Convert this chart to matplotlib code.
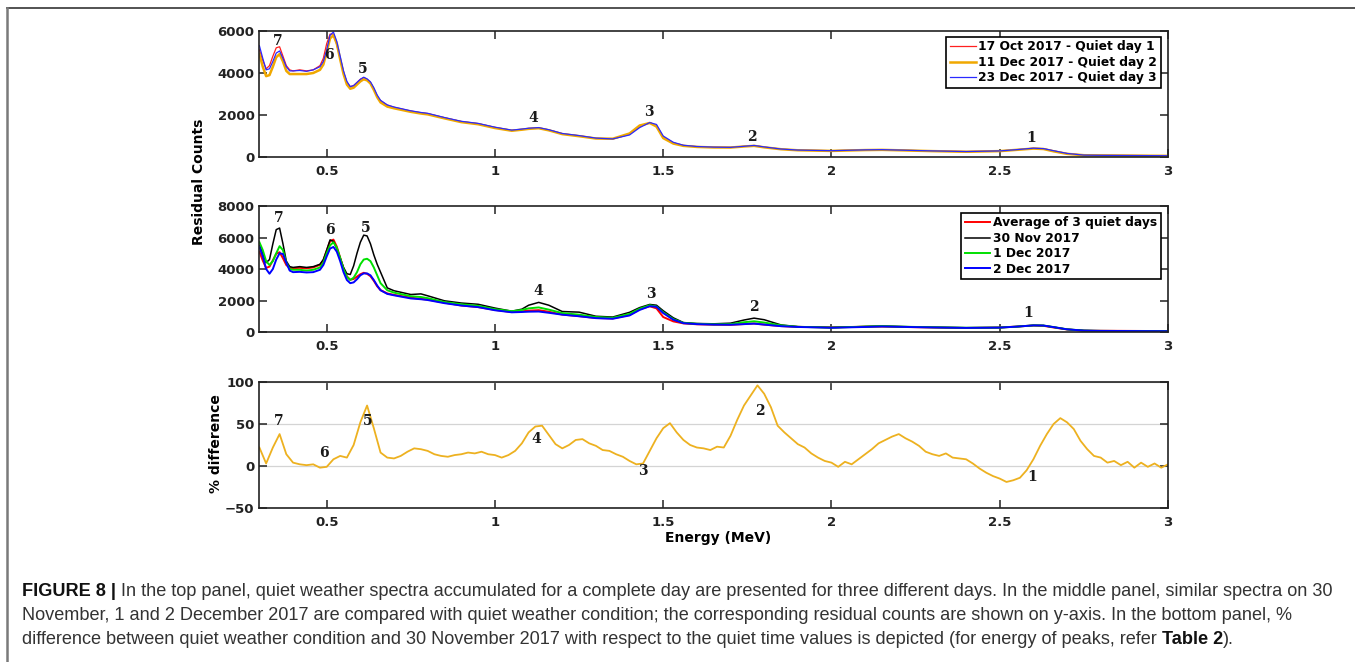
import numpy as np
import matplotlib
matplotlib.use('Agg')
import matplotlib.pyplot as plt
from matplotlib.lines import Line2D
from matplotlib import font_manager

# energy grid (MeV) shared by the top and middle panels
energy = [0.30, 0.31, 0.32, 0.33, 0.34, 0.35, 0.36, 0.37, 0.38, 0.39,
          0.40, 0.42, 0.44, 0.46, 0.48, 0.49, 0.50, 0.51, 0.52, 0.53,
          0.54, 0.55, 0.56, 0.57, 0.58, 0.59, 0.60, 0.61, 0.62, 0.63,
          0.64, 0.65, 0.66, 0.68, 0.70, 0.75, 0.78, 0.80, 0.85, 0.90,
          0.95, 1.00, 1.05, 1.08, 1.10, 1.13, 1.16, 1.20, 1.25, 1.30,
          1.35, 1.40, 1.43, 1.46, 1.48, 1.50, 1.53, 1.56, 1.60, 1.65,
          1.70, 1.74, 1.77, 1.80, 1.85, 1.90, 2.00, 2.10, 2.15, 2.20,
          2.30, 2.40, 2.50, 2.55, 2.60, 2.63, 2.66, 2.70, 2.75, 2.80,
          2.90, 3.00]

# quiet days (top panel)
quiet1 = [5100, 4600, 4200, 4350, 4800, 5200, 5250, 4800, 4350, 4150,
          4100, 4150, 4100, 4150, 4350, 4700, 5400, 5850, 5850, 5350,
          4700, 4050, 3550, 3350, 3400, 3550, 3700, 3780, 3700, 3550,
          3250, 2900, 2680, 2470, 2370, 2190, 2110, 2070, 1870, 1690,
          1590, 1410, 1270, 1320, 1360, 1390, 1290, 1110, 1010, 890,
          860, 1080, 1450, 1640, 1500, 950, 680, 550, 490, 465,
          455, 505, 545, 470, 375, 325, 300, 335, 345, 325,
          285, 255, 285, 345, 415, 395, 290, 165, 90, 80,
          70, 60]
quiet2 = [4900, 4300, 3850, 3900, 4300, 4750, 4900, 4550, 4100, 3950,
          3950, 3950, 3950, 4000, 4150, 4400, 5000, 5650, 5800, 5400,
          4650, 3950, 3450, 3250, 3300, 3450, 3600, 3700, 3650, 3500,
          3200, 2850, 2600, 2400, 2320, 2150, 2070, 2030, 1840, 1660,
          1560, 1380, 1250, 1300, 1340, 1370, 1270, 1090, 990, 880,
          870, 1120, 1500, 1620, 1450, 900, 640, 530, 480, 455,
          450, 500, 530, 460, 370, 320, 290, 330, 340, 320,
          280, 250, 280, 340, 400, 380, 270, 150, 85, 75,
          65, 55]
quiet3 = [5300, 4700, 4150, 4200, 4550, 4950, 5050, 4700, 4300, 4100,
          4100, 4120, 4080, 4150, 4300, 4550, 5100, 5800, 5950, 5500,
          4800, 4100, 3600, 3350, 3400, 3550, 3700, 3800, 3720, 3580,
          3300, 2950, 2700, 2480, 2380, 2200, 2120, 2080, 1880, 1700,
          1600, 1420, 1280, 1330, 1370, 1400, 1300, 1120, 1020, 900,
          860, 1050, 1400, 1640, 1550, 1000, 700, 560, 500, 470,
          460, 510, 550, 480, 380, 330, 300, 340, 350, 330,
          290, 260, 290, 350, 420, 400, 300, 170, 90, 80,
          70, 60]

# disturbed days (middle panel)
nov30 = [5500, 5000, 4400, 4600, 5600, 6500, 6600, 5600, 4500, 4150,
         4100, 4150, 4100, 4150, 4300, 4600, 5200, 5850, 5750, 5300,
         4700, 4100, 3700, 3650, 4200, 5000, 5700, 6150, 6100, 5600,
         4900, 4300, 3800, 2800, 2620, 2380, 2420, 2300, 1980, 1840,
         1760, 1520, 1320, 1450, 1700, 1880, 1700, 1300, 1260, 1000,
         950, 1250, 1550, 1750, 1700, 1350, 900, 600, 540, 520,
         560, 760, 880, 780, 450, 340, 280, 350, 380, 350,
         300, 270, 280, 340, 420, 410, 310, 170, 90, 70,
         60, 50]
dec1 = [5700, 5200, 4500, 4250, 4500, 5000, 5450, 5200, 4400, 4000,
        3950, 3950, 3900, 3950, 4100, 4400, 5000, 5500, 5700, 5350,
        4700, 4000, 3500, 3300, 3450, 3800, 4300, 4600, 4650, 4500,
        4100, 3600, 3100, 2650, 2500, 2270, 2220, 2150, 1900, 1760,
        1660, 1450, 1320, 1400, 1500, 1560, 1420, 1200, 1100, 950,
        900, 1150, 1480, 1700, 1620, 1250, 820, 580, 520, 490,
        500, 620, 680, 600, 420, 330, 280, 340, 370, 340,
        300, 270, 280, 340, 420, 410, 310, 170, 90, 70,
        60, 50]
dec2 = [5400, 4800, 4000, 3700, 4000, 4600, 5000, 4950, 4400, 3900,
        3800, 3820, 3780, 3800, 3950, 4250, 4800, 5300, 5400, 5100,
        4500, 3800, 3300, 3100, 3150, 3350, 3600, 3720, 3720, 3600,
        3300, 2950, 2650, 2420, 2330, 2130, 2080, 2030, 1830, 1680,
        1580, 1380, 1250, 1270, 1290, 1300, 1220, 1100, 1000, 880,
        840, 1050, 1400, 1640, 1600, 1200, 780, 560, 500, 470,
        460, 500, 530, 470, 370, 320, 270, 320, 350, 330,
        290, 260, 280, 340, 420, 410, 310, 170, 90, 70,
        60, 50]

# % difference, 30 Nov vs quiet (bottom panel), 0.30 .. 3.00 MeV every 0.02
pct_diff = [22, 3, 22, 38, 14, 4, 2, 1, 2, -2,
            -1, 8, 12, 10, 25, 52, 72, 45, 16, 10,
            9, 12, 17, 21, 20, 18, 14, 12, 11, 13,
            14, 16, 15, 17, 14, 13, 10, 13, 18, 27,
            40, 47, 48, 37, 26, 21, 25, 31, 32, 27,
            24, 19, 18, 14, 11, 6, 2, 3, 18, 33,
            45, 51, 40, 31, 25, 22, 21, 19, 23, 22,
            36, 55, 72, 84, 96, 86, 70, 48, 40, 33,
            26, 22, 15, 10, 6, 4, -1, 5, 2, 8,
            14, 20, 27, 31, 35, 38, 33, 29, 24, 17,
            14, 12, 15, 10, 9, 8, 3, -3, -8, -12,
            -15, -19, -17, -14, -5, 8, 24, 38, 50, 57,
            52, 44, 30, 20, 12, 10, 4, 6, 1, 5,
            -2, 4, -1, 3, -2, 2]

xticks = [0.5, 1, 1.5, 2, 2.5, 3]
xtick_labels = ['0.5', '1', '1.5', '2', '2.5', '3']
peak_ids = ['1', '2', '3', '4', '5', '6', '7']

plt.rcParams['font.family'] = 'DejaVu Sans'

W, H = 1355, 662
fig = plt.figure(figsize=(W / 100, H / 100), dpi=100)


def px_axes(left, top, right, bottom):
    return fig.add_axes([left / W, 1 - bottom / H, (right - left) / W, (bottom - top) / H])


def style(ax, ylim, yticks):
    ax.set_xlim(0.3, 3)
    ax.set_ylim(*ylim)
    ax.set_xticks(xticks)
    ax.set_xticklabels(xtick_labels)
    ax.set_yticks(yticks)
    ax.tick_params(direction='in', top=True, right=True, length=6, width=1.1,
                   labelsize=9.5, colors='#222222', pad=3.5)
    ax.tick_params(axis='x', pad=6)
    for lbl in ax.get_xticklabels() + ax.get_yticklabels():
        lbl.set_fontweight('bold')
    for s in ax.spines.values():
        s.set_linewidth(1.2)
        s.set_color('#222222')


def peaks(ax, xs, ys):
    for pid, x, y in zip(peak_ids, xs, ys):
        ax.text(x, y, pid, ha='center', va='center', fontsize=10,
                family='DejaVu Serif', fontweight='bold', color='#1a1a1a')


def legend(ax, anchor):
    leg = ax.legend(loc='upper right', bbox_to_anchor=anchor, borderaxespad=0,
                    fancybox=False, edgecolor='black', framealpha=1,
                    prop={'weight': 'bold', 'size': 8.8}, handlelength=2.1,
                    handletextpad=0.2, borderpad=0.3, labelspacing=0.2)
    leg.get_frame().set_linewidth(1.2)


E = np.array(energy)

# top panel
ax1 = px_axes(259.4, 31, 1168, 157)
ax1.plot(E, quiet1, color='#ff2020', lw=0.9, label='17 Oct 2017 - Quiet day 1')
ax1.plot(E, quiet2, color='#f0a800', lw=1.8, label='11 Dec 2017 - Quiet day 2')
ax1.plot(E, quiet3, color='#2a2aff', lw=0.9, label='23 Dec 2017 - Quiet day 3')
style(ax1, (0, 6000), [0, 2000, 4000, 6000])
peaks(ax1, [2.594, 1.762, 1.458, 1.113, 0.606, 0.508, 0.354],
      [890, 970, 2160, 1840, 4170, 4860, 5540])
legend(ax1, (0.992, 0.955))

# middle panel
avg_quiet = np.mean([quiet1, quiet2, quiet3], axis=0)
ax2 = px_axes(259.4, 206, 1168, 332)
ax2.plot(E, avg_quiet, color='#ff0000', lw=1.4, label='Average of 3 quiet days')
ax2.plot(E, nov30, color='black', lw=1.1, label='30 Nov 2017')
ax2.plot(E, dec1, color='#00e000', lw=1.4, label='1 Dec 2017')
ax2.plot(E, dec2, color='#0000ff', lw=1.4, label='2 Dec 2017')
style(ax2, (0, 8000), [0, 2000, 4000, 6000, 8000])
peaks(ax2, [2.584, 1.769, 1.462, 1.128, 0.616, 0.510, 0.356],
      [1190, 1570, 2390, 2620, 6580, 6480, 7260])
legend(ax2, (0.992, 0.947))

# bottom panel
E_pct = np.linspace(0.30, 3.00, len(pct_diff))
ax3 = px_axes(259.4, 382, 1168, 508)
ax3.plot(E_pct, pct_diff, color='#EDB120', lw=1.3)
style(ax3, (-50, 100), [-50, 0, 50, 100])
ax3.yaxis.grid(True, color='#d4d4d4', lw=0.9)
ax3.set_axisbelow(True)
peaks(ax3, [2.597, 1.787, 1.440, 1.124, 0.622, 0.492, 0.358],
      [-13, 65, -6, 32, 53, 15, 54])

fig.text(199 / W, 1 - 182 / H, 'Residual Counts', rotation=90, ha='center', va='center',
         fontsize=10, fontweight='bold')
fig.text(216 / W, 1 - 444 / H, '% difference', rotation=90, ha='center', va='center',
         fontsize=10, fontweight='bold')
fig.text(718 / W, 1 - 538 / H, 'Energy (MeV)', ha='center', va='center',
         fontsize=10, fontweight='bold')

# frame of the figure box
fig.add_artist(Line2D([7 / W, 1], [1 - 8 / H, 1 - 8 / H], color='#444444', lw=1.3))
fig.add_artist(Line2D([7 / W, 7 / W], [0, 1 - 8 / H], color='#7a7a7a', lw=1.8))

# caption
names = {f.name for f in font_manager.fontManager.ttflist}
cap_font = 'Liberation Sans Narrow' if 'Liberation Sans Narrow' in names else 'Liberation Sans'
renderer = fig.canvas.get_renderer()

caption = [
    (592, [('FIGURE 8 |', True),
           (' In the top panel, quiet weather spectra accumulated for a complete day are presented '
            'for three different days. In the middle panel, similar spectra on 30', False)]),
    (616, [('November, 1 and 2 December 2017 are compared with quiet weather condition; the '
            'corresponding residual counts are shown on y-axis. In the bottom panel, %', False)]),
    (640, [('difference between quiet weather condition and 30 November 2017 with respect to the '
            'quiet time values is depicted (for energy of peaks, refer ', False),
           ('Table 2', True), (').', False)]),
]


def caption_line(y, parts, fs):
    x = 22
    arts = []
    for s, bold in parts:
        t = fig.text(x / W, 1 - y / H, s, fontsize=fs, family=cap_font,
                     fontweight='bold' if bold else 'normal',
                     color='#111111' if bold else '#333333', ha='left', va='center')
        arts.append(t)
        x = t.get_window_extent(renderer).x1
    return arts, x


arts, xend = caption_line(caption[0][0], caption[0][1], 11)
for a in arts:
    a.remove()
fs = 11 * (1332 - 22) / (xend - 22)
for y, parts in caption:
    caption_line(y, parts, fs)

fig.savefig('out.png', dpi=100)
